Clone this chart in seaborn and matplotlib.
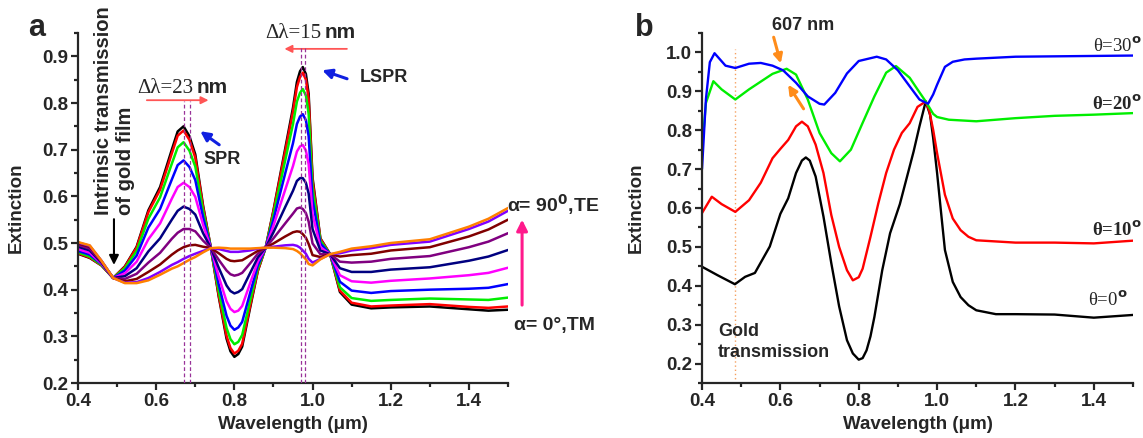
import pandas as pd
import seaborn as sns
import matplotlib.pyplot as plt
from matplotlib.ticker import MultipleLocator, FormatStrFormatter

sns.set_style("ticks")
plt.rcParams["font.family"] = ["Liberation Sans", "DejaVu Sans"]
plt.rcParams["mathtext.fontset"] = "dejavusans"

# ---------------- panel a: polarization angle series ----------------
wl_a = [0.40, 0.43, 0.46, 0.49, 0.52, 0.55, 0.58, 0.61, 0.64, 0.655, 0.67, 0.685, 0.70,
        0.72, 0.74, 0.76, 0.78, 0.79, 0.80, 0.81, 0.82, 0.84, 0.86, 0.88, 0.90, 0.93, 0.95,
        0.96, 0.968, 0.975, 0.983, 0.99, 1.00, 1.02, 1.045, 1.07, 1.10, 1.15, 1.20, 1.30,
        1.40, 1.45, 1.50]

ext_a0 = [0.477, 0.468, 0.452, 0.425, 0.450, 0.492, 0.570, 0.620, 0.700, 0.739, 0.750, 0.729, 0.690,
          0.580, 0.489, 0.385, 0.295, 0.268, 0.256, 0.262, 0.278, 0.360, 0.440, 0.490, 0.570, 0.702, 0.790,
          0.845, 0.868, 0.877, 0.862, 0.820, 0.640, 0.510, 0.476, 0.395, 0.368, 0.360, 0.362, 0.364,
          0.358, 0.355, 0.357]
ext_a10 = [0.478, 0.469, 0.452, 0.425, 0.449, 0.490, 0.566, 0.614, 0.692, 0.730, 0.741, 0.721, 0.683,
           0.577, 0.489, 0.388, 0.301, 0.275, 0.263, 0.269, 0.284, 0.364, 0.441, 0.490, 0.568, 0.696, 0.781,
           0.834, 0.856, 0.865, 0.850, 0.809, 0.634, 0.509, 0.476, 0.398, 0.372, 0.364, 0.366, 0.369,
           0.363, 0.361, 0.364]
ext_a20 = [0.480, 0.471, 0.453, 0.425, 0.446, 0.483, 0.552, 0.598, 0.670, 0.705, 0.716, 0.698, 0.664,
           0.568, 0.489, 0.397, 0.318, 0.294, 0.283, 0.288, 0.303, 0.375, 0.446, 0.490, 0.561, 0.677, 0.755,
           0.803, 0.822, 0.830, 0.816, 0.777, 0.618, 0.505, 0.476, 0.405, 0.382, 0.376, 0.378, 0.381,
           0.379, 0.378, 0.383]
ext_a30 = [0.483, 0.475, 0.455, 0.425, 0.441, 0.473, 0.533, 0.573, 0.636, 0.667, 0.677, 0.663, 0.635,
           0.555, 0.489, 0.411, 0.344, 0.323, 0.314, 0.319, 0.331, 0.392, 0.452, 0.490, 0.550, 0.649, 0.714,
           0.755, 0.771, 0.776, 0.763, 0.729, 0.593, 0.499, 0.476, 0.417, 0.398, 0.393, 0.397, 0.400,
           0.402, 0.404, 0.412]
ext_a40 = [0.487, 0.479, 0.456, 0.425, 0.435, 0.460, 0.508, 0.542, 0.595, 0.620, 0.629, 0.620, 0.599,
           0.539, 0.489, 0.428, 0.375, 0.359, 0.352, 0.355, 0.365, 0.413, 0.460, 0.490, 0.537, 0.614, 0.665,
           0.696, 0.707, 0.710, 0.698, 0.669, 0.562, 0.491, 0.476, 0.431, 0.418, 0.415, 0.419, 0.424,
           0.431, 0.436, 0.447]
ext_a50 = [0.492, 0.484, 0.458, 0.425, 0.429, 0.446, 0.482, 0.510, 0.550, 0.569, 0.578, 0.573, 0.561,
           0.521, 0.489, 0.447, 0.409, 0.397, 0.392, 0.395, 0.401, 0.435, 0.469, 0.490, 0.523, 0.577, 0.612,
           0.633, 0.639, 0.639, 0.629, 0.606, 0.530, 0.484, 0.476, 0.446, 0.438, 0.438, 0.443, 0.448,
           0.462, 0.471, 0.485]
ext_a60 = [0.496, 0.488, 0.460, 0.425, 0.423, 0.434, 0.458, 0.479, 0.509, 0.522, 0.530, 0.530, 0.525,
           0.505, 0.489, 0.464, 0.441, 0.433, 0.430, 0.432, 0.436, 0.456, 0.477, 0.490, 0.510, 0.542, 0.563,
           0.574, 0.576, 0.573, 0.564, 0.546, 0.499, 0.476, 0.476, 0.460, 0.458, 0.460, 0.466, 0.472,
           0.491, 0.503, 0.521]
ext_a70 = [0.499, 0.492, 0.461, 0.425, 0.418, 0.423, 0.438, 0.454, 0.475, 0.484, 0.491, 0.495, 0.496,
           0.492, 0.489, 0.478, 0.466, 0.462, 0.461, 0.462, 0.463, 0.473, 0.483, 0.490, 0.499, 0.514, 0.523,
           0.525, 0.524, 0.519, 0.511, 0.498, 0.474, 0.470, 0.476, 0.471, 0.474, 0.477, 0.484, 0.491,
           0.514, 0.529, 0.550]
ext_a80 = [0.501, 0.494, 0.462, 0.425, 0.415, 0.416, 0.425, 0.438, 0.453, 0.459, 0.466, 0.472, 0.477,
           0.483, 0.489, 0.487, 0.483, 0.481, 0.481, 0.481, 0.482, 0.484, 0.488, 0.490, 0.492, 0.495, 0.496,
           0.494, 0.490, 0.484, 0.477, 0.466, 0.458, 0.466, 0.476, 0.478, 0.484, 0.489, 0.496, 0.503,
           0.530, 0.546, 0.569]
ext_a90 = [0.502, 0.495, 0.462, 0.425, 0.414, 0.414, 0.420, 0.432, 0.445, 0.450, 0.457, 0.464, 0.470,
           0.480, 0.489, 0.490, 0.489, 0.488, 0.488, 0.488, 0.488, 0.488, 0.489, 0.490, 0.490, 0.489, 0.487,
           0.483, 0.478, 0.472, 0.465, 0.455, 0.452, 0.465, 0.476, 0.481, 0.488, 0.493, 0.500, 0.508,
           0.535, 0.552, 0.575]

angles_a = ["0", "10", "20", "30", "40", "50", "60", "70", "80", "90"]
series_a = [ext_a0, ext_a10, ext_a20, ext_a30, ext_a40, ext_a50, ext_a60, ext_a70, ext_a80, ext_a90]
colors_a = ["#000000", "#ff0000", "#00ee00", "#0000ff", "#ff00ff",
            "#000080", "#800080", "#800000", "#8000ff", "#ff8000"]

spr_lines = [0.671, 0.687]
lspr_lines = [0.970, 0.981]

# ---------------- panel b: incidence angle series ----------------
wl_b0 = [0.40, 0.44, 0.484, 0.51, 0.535, 0.573, 0.60, 0.62, 0.64, 0.655, 0.665, 0.675, 0.69, 0.71,
         0.73, 0.75, 0.77, 0.785, 0.80, 0.81, 0.82, 0.83, 0.84, 0.86, 0.88, 0.905, 0.94, 0.955,
         0.971, 0.982, 0.99, 1.00, 1.01, 1.02, 1.04, 1.06, 1.08, 1.10, 1.15, 1.20, 1.30, 1.40, 1.50]
ext_b0 = [0.449, 0.427, 0.404, 0.423, 0.433, 0.501, 0.585, 0.625, 0.690, 0.722, 0.730, 0.722, 0.681, 0.578,
          0.458, 0.347, 0.260, 0.226, 0.210, 0.214, 0.234, 0.270, 0.320, 0.440, 0.535, 0.610, 0.745, 0.810,
          0.874, 0.840, 0.780, 0.690, 0.590, 0.492, 0.410, 0.371, 0.350, 0.337, 0.327, 0.327, 0.326, 0.318,
          0.325]

wl_b10 = [0.40, 0.425, 0.45, 0.485, 0.52, 0.55, 0.58, 0.60, 0.62, 0.64, 0.655, 0.67, 0.69, 0.71,
          0.73, 0.75, 0.77, 0.785, 0.80, 0.81, 0.83, 0.85, 0.87, 0.89, 0.91, 0.93, 0.95, 0.971, 0.98,
          0.99, 1.00, 1.02, 1.04, 1.06, 1.08, 1.10, 1.20, 1.30, 1.40, 1.50]
ext_b10 = [0.587, 0.629, 0.610, 0.590, 0.620, 0.665, 0.728, 0.752, 0.775, 0.810, 0.822, 0.810, 0.763, 0.690,
           0.582, 0.500, 0.440, 0.414, 0.422, 0.444, 0.526, 0.612, 0.690, 0.750, 0.793, 0.818, 0.860, 0.874,
           0.850, 0.801, 0.741, 0.634, 0.573, 0.543, 0.526, 0.517, 0.511, 0.511, 0.509, 0.516]

wl_b20 = [0.40, 0.41, 0.429, 0.45, 0.485, 0.52, 0.55, 0.58, 0.616, 0.64, 0.67, 0.70, 0.73, 0.752,
          0.78, 0.81, 0.84, 0.87, 0.895, 0.93, 0.95, 0.971, 0.99, 1.00, 1.03, 1.10, 1.20, 1.30,
          1.40, 1.50]
ext_b20 = [0.750, 0.870, 0.926, 0.905, 0.879, 0.905, 0.925, 0.945, 0.958, 0.943, 0.879, 0.793, 0.741, 0.720,
           0.750, 0.819, 0.887, 0.948, 0.965, 0.935, 0.905, 0.874, 0.842, 0.834, 0.827, 0.823, 0.831, 0.837,
           0.840, 0.844]

wl_b30 = [0.40, 0.41, 0.42, 0.432, 0.46, 0.485, 0.52, 0.55, 0.58, 0.607, 0.64, 0.67, 0.70, 0.712,
          0.74, 0.77, 0.80, 0.846, 0.87, 0.90, 0.93, 0.955, 0.977, 0.99, 1.00, 1.02, 1.04, 1.07,
          1.10, 1.20, 1.30, 1.50]
ext_b30 = [0.700, 0.880, 0.975, 0.998, 0.966, 0.960, 0.971, 0.973, 0.966, 0.954, 0.922, 0.887, 0.868, 0.866,
           0.896, 0.946, 0.978, 0.989, 0.982, 0.954, 0.913, 0.879, 0.868, 0.892, 0.917, 0.963, 0.976, 0.982,
           0.984, 0.989, 0.990, 0.992]

angles_b = ["0", "10", "20", "30"]
wl_b = [wl_b0, wl_b10, wl_b20, wl_b30]
series_b = [ext_b0, ext_b10, ext_b20, ext_b30]
colors_b = ["#000000", "#ff0000", "#00ee00", "#0000ff"]
gold_line = [0.484]

df_a = pd.concat([pd.DataFrame({"wl": wl_a, "ext": v, "angle": a})
                  for a, v in zip(angles_a, series_a)], ignore_index=True)
df_b = pd.concat([pd.DataFrame({"wl": w, "ext": v, "angle": a})
                  for a, w, v in zip(angles_b, wl_b, series_b)], ignore_index=True)

fig = plt.figure(figsize=(11.43, 4.38), dpi=100)
ax_a = fig.add_axes([78 / 1143, 1 - 383 / 438, 430 / 1143, 350 / 438])
ax_b = fig.add_axes([702 / 1143, 1 - 383 / 438, 431 / 1143, 350 / 438])


def style_axis(ax, ylim, ylab_x):
    ax.set_xlim(0.4, 1.5)
    ax.set_ylim(*ylim)
    ax.xaxis.set_major_locator(MultipleLocator(0.2))
    ax.xaxis.set_minor_locator(MultipleLocator(0.1))
    ax.yaxis.set_major_locator(MultipleLocator(0.1))
    ax.yaxis.set_minor_locator(MultipleLocator(0.05))
    ax.xaxis.set_major_formatter(FormatStrFormatter("%.1f"))
    ax.yaxis.set_major_formatter(FormatStrFormatter("%.1f"))
    sns.despine(ax=ax)
    for s in ["left", "bottom"]:
        ax.spines[s].set_linewidth(1.6)
    ax.tick_params(which="major", length=5, width=1.6, labelsize=13.5, pad=2)
    ax.tick_params(which="minor", length=3, width=1.6)
    for lab in ax.get_xticklabels() + ax.get_yticklabels():
        lab.set_fontweight("bold")
    ax.set_xlabel("Wavelength (μm)", fontsize=13.5, fontweight="bold")
    ax.set_ylabel("Extinction", fontsize=13.5, fontweight="bold")
    ax.xaxis.set_label_coords(0.5, -0.095)
    ax.yaxis.set_label_coords(ylab_x, 0.5)


# ---------------- draw panel a ----------------
sns.lineplot(data=df_a, x="wl", y="ext", hue="angle", hue_order=angles_a,
             palette=dict(zip(angles_a, colors_a)), estimator=None, sort=False,
             lw=1.8, legend=False, ax=ax_a)
style_axis(ax_a, (0.2, 0.95), -0.123)

ax_a.vlines(spr_lines, 0.2, 0.804, colors="#993399", linestyles=(0, (3, 2)), lw=0.9, zorder=5)
ax_a.vlines(lspr_lines, 0.2, 0.919, colors="#993399", linestyles=(0, (3, 2)), lw=0.9, zorder=5)

ax_a.text(0.695, 0.822, "Δλ=23", ha="right", va="baseline", fontsize=15, family="Liberation Serif")
ax_a.text(0.703, 0.822, "nm", ha="left", va="baseline", fontsize=15, fontweight="bold")
ax_a.annotate("", xy=(0.741, 0.806), xytext=(0.569, 0.806),
              arrowprops=dict(arrowstyle="-|>", color="#ff5555", lw=1.3, mutation_scale=11))
ax_a.text(1.023, 0.940, "Δλ=15", ha="right", va="baseline", fontsize=15, family="Liberation Serif")
ax_a.text(1.031, 0.940, "nm", ha="left", va="baseline", fontsize=15, fontweight="bold")
ax_a.annotate("", xy=(0.921, 0.916), xytext=(1.095, 0.916),
              arrowprops=dict(arrowstyle="-|>", color="#ff5555", lw=1.3, mutation_scale=11),
              annotation_clip=False)

ax_a.annotate("", xy=(0.707, 0.743), xytext=(0.767, 0.707),
              arrowprops=dict(arrowstyle="-|>", color="#1020e0", lw=2.2, mutation_scale=14))
ax_a.text(0.769, 0.679, "SPR", ha="center", va="center", fontsize=13, fontweight="bold")
ax_a.annotate("", xy=(1.018, 0.872), xytext=(1.095, 0.850),
              arrowprops=dict(arrowstyle="-|>", color="#1020e0", lw=2.2, mutation_scale=14))
ax_a.text(1.182, 0.854, "LSPR", ha="center", va="center", fontsize=13, fontweight="bold")

ax_a.text(0.494, 0.5605, "Intrinsic transmission\nof gold film", rotation=90,
          ha="center", va="bottom", multialignment="left", fontsize=14.5, fontweight="bold",
          linespacing=1.2)
ax_a.annotate("", xy=(0.492, 0.447), xytext=(0.492, 0.557),
              arrowprops=dict(arrowstyle="-|>", color="black", lw=1.5, mutation_scale=14))

ax_a.text(1.497, 0.582, r"α= 90$^\mathbf{0}$,TE", ha="left", va="center", fontsize=14,
          fontweight="bold", clip_on=False)
ax_a.text(1.515, 0.324, "α= 0°,TM", ha="left", va="center", fontsize=14,
          fontweight="bold", clip_on=False)
ax_a.annotate("", xy=(1.536, 0.556), xytext=(1.536, 0.361),
              arrowprops=dict(arrowstyle="-|>", color="#ff1a8c", lw=2.2, mutation_scale=16),
              annotation_clip=False)

# ---------------- draw panel b ----------------
sns.lineplot(data=df_b, x="wl", y="ext", hue="angle", hue_order=angles_b,
             palette=dict(zip(angles_b, colors_b)), estimator=None, sort=False,
             lw=1.7, legend=False, ax=ax_b)
style_axis(ax_b, (0.15, 1.05), -0.132)

ax_b.vlines(gold_line, 0.15, 1.01, colors="#f5a060", linestyles=(0, (1, 2)), lw=1.0, zorder=1)
ax_b.text(0.441, 0.303, "Gold\ntransmission", ha="left", va="top", fontsize=13,
          fontweight="bold", linespacing=1.25)
ax_b.text(0.658, 1.070, "607 nm", ha="center", va="center", fontsize=13, fontweight="bold",
          clip_on=False)
ax_b.annotate("", xy=(0.603, 0.965), xytext=(0.581, 1.046),
              arrowprops=dict(arrowstyle="-|>", color="#ff8c1a", lw=2.2, mutation_scale=13),
              annotation_clip=False)
ax_b.annotate("", xy=(0.616, 0.923), xytext=(0.663, 0.849),
              arrowprops=dict(arrowstyle="-|>", color="#ff8c1a", lw=2.2, mutation_scale=13))

theta_labels = [(1.016, r"θ=30$^{\mathbf{o}}$", "normal", 1.522),
                (0.866, r"θ=20$^{\mathbf{o}}$", "bold", 1.522),
                (0.543, r"θ=10$^{\mathbf{o}}$", "bold", 1.522),
                (0.363, r"θ=0$^{\mathbf{o}}$", "normal", 1.486)]
for yv, txt, wt, xv in theta_labels:
    ax_b.text(xv, yv, txt, ha="right", va="center", fontsize=13.5, fontweight=wt,
              family="Liberation Serif", clip_on=False)

fig.text(37 / 1143, 1 - 28 / 438, "a", ha="center", va="center", fontsize=22, fontweight="bold")
fig.text(644 / 1143, 1 - 28 / 438, "b", ha="center", va="center", fontsize=22, fontweight="bold")

fig.savefig("out.png", dpi=100)
